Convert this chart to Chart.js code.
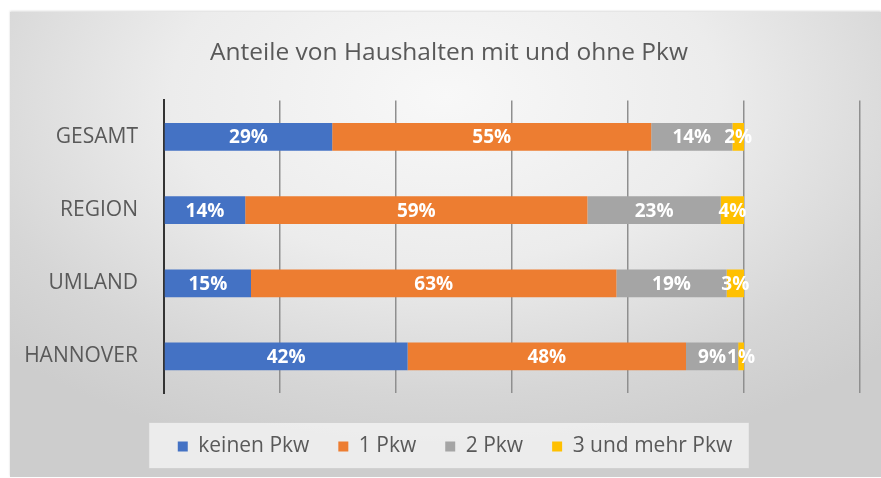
<!DOCTYPE html>
<html>
<head>
<meta charset="utf-8">
<script src="https://cdn.jsdelivr.net/npm/chart.js@4.4.0/dist/chart.umd.min.js"></script>
<style>
  body { margin: 0; background: #fff; }
  #panel {
    position: absolute; left: 10px; top: 12px; width: 871px; height: 465px;
    background: radial-gradient(ellipse 70% 80% at 50% 18%, #f8f8f8 0%, #ececec 45%, #d6d6d6 80%, #cdcdcd 100%);
    box-shadow: 0 -1px 2px rgba(0,0,0,0.15);
  }
</style>
</head>
<body>
<div id="panel"><canvas id="myChart" width="871" height="465"></canvas></div>
<script>
    // data
    const categories = ['GESAMT', 'REGION', 'UMLAND', 'HANNOVER'];
    const seriesNames = ['keinen Pkw', '1 Pkw', '2 Pkw', '3 und mehr Pkw'];
    const keinenPkw = [29, 14, 15, 42];
    const einPkw = [55, 59, 63, 48];
    const zweiPkw = [14, 23, 19, 9];
    const dreiPkw = [2, 4, 3, 1];
    const colors = ['#4472C4', '#ED7D31', '#A5A5A5', '#FFC000'];

    const font = "'Open Sans', 'DejaVu Sans', sans-serif";

    // white percent labels in the middle of each segment
    const barLabels = {
        id: 'barLabels',
        afterDatasetsDraw(chart) {
            const c = chart.ctx;
            c.save();
            c.font = 'bold 19px ' + font;
            c.fillStyle = '#ffffff';
            c.textAlign = 'center';
            c.textBaseline = 'middle';
            chart.data.datasets.forEach((ds, i) => {
                chart.getDatasetMeta(i).data.forEach((bar, j) => {
                    const x = (bar.x + bar.base) / 2;
                    c.fillText(ds.data[j] + '%', x, bar.y + 1);
                });
            });
            c.restore();
        }
    };

    // title and legend sit a bit right of the canvas centre in the original
    const shiftBlocks = {
        id: 'shiftBlocks',
        afterLayout(chart) {
            if (chart.titleBlock) chart.titleBlock.left += 28;
            if (chart.legend) chart.legend.left += 40;
        }
    };

    // light box behind the legend
    const legendBox = {
        id: 'legendBox',
        beforeDraw(chart) {
            const lg = chart.legend;
            if (!lg || !lg.legendHitBoxes.length) return;
            const hb = lg.legendHitBoxes;
            const first = hb[0], last = hb[hb.length - 1];
            const left = first.left - 29;
            const right = last.left + last.width + 17;
            const cy = first.top + first.height / 2 - 1;
            const c = chart.ctx;
            c.save();
            c.fillStyle = 'rgba(245,245,245,0.75)';
            c.strokeStyle = 'rgba(200,200,200,0.6)';
            c.fillRect(left, cy - 23, right - left, 46);
            c.strokeRect(left, cy - 23, right - left, 46);
            c.restore();
        }
    };

    const ctx = document.getElementById('myChart').getContext('2d');

    const myChart = new Chart(ctx, {
        type: 'bar',
        data: {
            labels: categories,
            datasets: [keinenPkw, einPkw, zweiPkw, dreiPkw].map((d, i) => ({
                label: seriesNames[i],
                data: d,
                backgroundColor: colors[i],
                borderWidth: 0,
                categoryPercentage: 1,
                barPercentage: 0.38
            }))
        },
        options: {
            indexAxis: 'y',
            responsive: false,
            animation: false,
            layout: { padding: { left: 0, right: 21, top: 0, bottom: 10 } },
            scales: {
                x: {
                    stacked: true,
                    min: 0,
                    max: 120,
                    afterFit(scale) { scale.height = 14; },
                    ticks: { display: false, stepSize: 20 },
                    grid: { color: '#8f8f8f', lineWidth: 1.5, drawTicks: false },
                    border: { display: false }
                },
                y: {
                    stacked: true,
                    afterFit(scale) { scale.width = 154; },
                    ticks: { color: '#595959', font: { family: font, size: 21 }, padding: 26 },
                    grid: { display: false, drawTicks: false },
                    border: { display: true, color: '#333333', width: 2 }
                }
            },
            plugins: {
                title: {
                    display: true,
                    text: 'Anteile von Haushalten mit und ohne Pkw',
                    color: '#595959',
                    font: { family: font, size: 24.5, weight: 'normal' },
                    padding: { top: 26, bottom: 33 }
                },
                legend: {
                    position: 'bottom',
                    labels: {
                        color: '#595959',
                        font: { family: font, size: 21 },
                        boxWidth: 10,
                        boxHeight: 10,
                        padding: 29
                    }
                },
                tooltip: { enabled: false }
            }
        },
        plugins: [shiftBlocks, legendBox, barLabels]
    });
</script>
</body>
</html>
